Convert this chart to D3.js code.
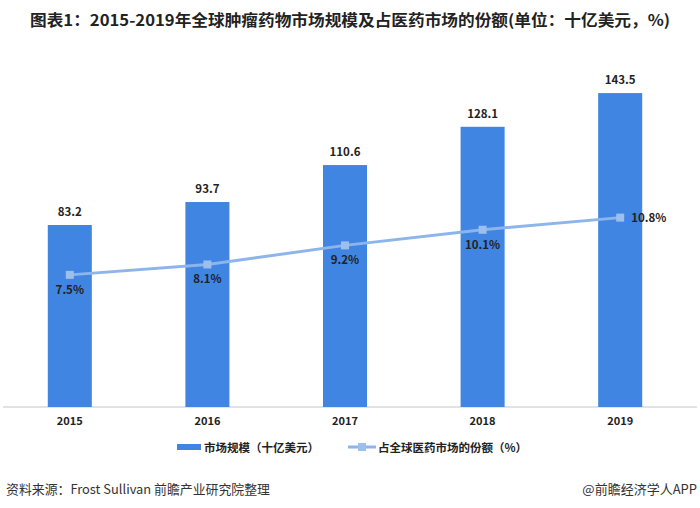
<!DOCTYPE html>
<html><head><meta charset="utf-8">
<script src="https://cdn.jsdelivr.net/npm/d3@7"></script>
<style>body{margin:0;background:#fff}svg{display:block}</style>
</head><body>
<script>
const years = ["2015","2016","2017","2018","2019"];
const marketSize = [83.2, 93.7, 110.6, 128.1, 143.5];
const share = [7.5, 8.1, 9.2, 10.1, 10.8];
const shareLabels = ["7.5%","8.1%","9.2%","10.1%","10.8%"];

const W = 700, H = 508;
const svg = d3.select("body").append("svg").attr("width", W).attr("height", H);
const font = "'Noto Sans CJK SC','Liberation Sans',sans-serif";

const x = d3.scaleBand().domain(years).range([1, 689]).paddingInner(0.68).paddingOuter(0.34);
const y = d3.scaleLinear().domain([0, 160]).range([407, 57]);
const y2 = d3.scaleLinear().domain([0, 20]).range([405, 58]);

// title
svg.append("text").attr("x", 30).attr("y", 26)
  .attr("font-family", font).attr("font-weight", "bold").attr("font-size", 15.5)
  .attr("fill", "#222").attr("textLength", 640).attr("lengthAdjust", "spacingAndGlyphs")
  .text("图表1：2015-2019年全球肿瘤药物市场规模及占医药市场的份额(单位：十亿美元，%)");

// axis line
svg.append("line").attr("x1", 3).attr("x2", 697).attr("y1", 407).attr("y2", 407)
  .attr("stroke", "#d9d9d9").attr("stroke-width", 1.5);

// bars
svg.selectAll("rect.bar").data(marketSize).join("rect").attr("class", "bar")
  .attr("x", (d, i) => x(years[i])).attr("width", x.bandwidth())
  .attr("y", d => y(d)).attr("height", d => y(0) - y(d))
  .attr("fill", "#3f85e1");

svg.selectAll("text.val").data(marketSize).join("text").attr("class", "val")
  .attr("x", (d, i) => x(years[i]) + x.bandwidth() / 2).attr("y", d => y(d) - 9)
  .attr("text-anchor", "middle").attr("font-family", font).attr("font-weight", "bold")
  .attr("font-size", 11.5).attr("fill", "#222").text(d => d.toFixed(1));

// x axis labels
const xa = svg.append("g").attr("transform", "translate(0,407)")
  .call(d3.axisBottom(x).tickSize(0).tickPadding(10));
xa.select(".domain").remove();
xa.selectAll("text").attr("font-family", font).attr("font-weight", "bold")
  .attr("font-size", 11).attr("fill", "#222");

// line
const cx = (i) => x(years[i]) + x.bandwidth() / 2;
const line = d3.line().x((d, i) => cx(i)).y(d => y2(d));
svg.append("path").datum(share).attr("d", line).attr("fill", "none")
  .attr("stroke", "#8db5ea").attr("stroke-width", 3);
svg.selectAll("rect.mk").data(share).join("rect").attr("class", "mk")
  .attr("x", (d, i) => cx(i) - 4).attr("y", d => y2(d) - 4).attr("width", 8).attr("height", 8)
  .attr("fill", "#9cbfee");
svg.selectAll("text.pct").data(share).join("text").attr("class", "pct")
  .attr("x", (d, i) => i === 4 ? cx(i) + 11 : cx(i))
  .attr("y", (d, i) => i === 4 ? y2(d) + 4 : y2(d) + 19)
  .attr("text-anchor", (d, i) => i === 4 ? "start" : "middle")
  .attr("font-family", font).attr("font-weight", "bold").attr("font-size", 11.5)
  .attr("fill", "#222").text((d, i) => shareLabels[i]);

// legend
svg.append("rect").attr("x", 177).attr("y", 444).attr("width", 24).attr("height", 6).attr("fill", "#3f85e1");
svg.append("text").attr("x", 204).attr("y", 451.5).attr("font-family", font).attr("font-weight", "bold")
  .attr("font-size", 11.5).attr("fill", "#222").text("市场规模（十亿美元）");
svg.append("line").attr("x1", 348).attr("x2", 376).attr("y1", 447).attr("y2", 447)
  .attr("stroke", "#8db5ea").attr("stroke-width", 3);
svg.append("rect").attr("x", 358).attr("y", 443).attr("width", 8).attr("height", 8).attr("fill", "#9cbfee");
svg.append("text").attr("x", 378).attr("y", 451.5).attr("font-family", font).attr("font-weight", "bold")
  .attr("font-size", 11.5).attr("fill", "#222").text("占全球医药市场的份额（%）");

// footer
svg.append("text").attr("x", 6).attr("y", 494).attr("font-family", font)
  .attr("font-size", 13).attr("fill", "#333").attr("textLength", 264).attr("lengthAdjust", "spacingAndGlyphs")
  .text("资料来源：Frost Sullivan 前瞻产业研究院整理");
svg.append("text").attr("x", 697).attr("y", 494).attr("text-anchor", "end").attr("font-family", font)
  .attr("font-size", 13).attr("fill", "#333").text("@前瞻经济学人APP");
</script>
</body></html>
